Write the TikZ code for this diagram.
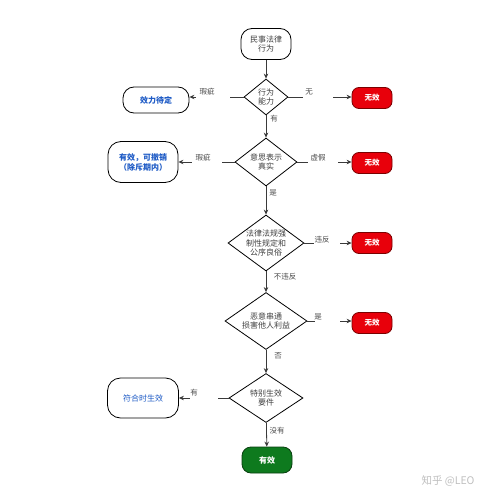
\documentclass[tikz,border=0pt]{standalone}
\usepackage{fontspec}
\setmainfont{Noto Sans CJK SC}
\usetikzlibrary{shapes.geometric,arrows.meta}
\definecolor{linec}{HTML}{3A3A3A}
\definecolor{bluet}{HTML}{1E5BC6}
\definecolor{redf}{HTML}{E8000B}
\definecolor{redd}{HTML}{7A0000}
\definecolor{greenf}{HTML}{0E7A1E}
\definecolor{greend}{HTML}{0A3F10}
\begin{document}
\begin{tikzpicture}[x=1pt,y=-1pt,
  font=\fontsize{8}{9.5}\selectfont,
  conn/.style={draw=linec, line width=0.8pt, -{Stealth[length=5pt,width=4.5pt]}},
  plain/.style={draw=linec, line width=0.8pt},
  dia/.style={diamond, draw=black, line width=0.8pt, inner sep=0pt, align=center, text=black!75},
  startbox/.style={draw=black, line width=0.8pt, rounded corners=11pt, align=center, text=black!75},
  resbox/.style={draw=black, line width=0.8pt, rounded corners=11pt, align=center, text=bluet},
  redbox/.style={draw=redd, fill=redf, line width=0.8pt, rounded corners=7pt, text=white, font=\fontsize{7.5}{9}\selectfont\bfseries, minimum width=40pt, minimum height=21pt, inner sep=0pt},
  greenbox/.style={draw=greend, fill=greenf, line width=0.8pt, rounded corners=9pt, text=white, font=\fontsize{8}{9}\selectfont\bfseries, minimum width=50pt, minimum height=26pt, inner sep=0pt},
  lab/.style={text=black!70, font=\fontsize{7.5}{9}\selectfont, inner sep=0pt},
  gapw/.style={fill=white, draw=none, inner sep=0pt, minimum height=5pt}
]
\useasboundingbox (0,0) rectangle (500,500);
\fill[white] (0,0) rectangle (500,500);

% main column
\node[startbox, minimum width=50pt, minimum height=31pt, inner sep=0pt] (s) at (266,44) {民事法律\\行为};
\node[dia, minimum width=44pt, minimum height=36pt, shape aspect=1.22] (d1) at (266,97) {行为\\能力};
\node[dia, minimum width=62pt, minimum height=48pt, shape aspect=1.29] (d2) at (266,162) {意思表示\\真实};
\node[dia, minimum width=76pt, minimum height=56pt, shape aspect=1.36] (d3) at (266,243) {法律法规强\\制性规定和\\公序良俗};
\node[dia, minimum width=82pt, minimum height=57pt, shape aspect=1.44] (d4) at (266,321) {恶意串通\\损害他人利益};
\node[dia, minimum width=74pt, minimum height=49pt, shape aspect=1.51] (d5) at (266,398) {特别生效\\要件};
\node[greenbox] (g) at (267,460) {有效};

% left boxes
\node[resbox, font=\fontsize{8}{9.5}\selectfont\bfseries, minimum width=66pt, minimum height=26pt, inner sep=0pt] (b1) at (156,100) {效力待定};
\node[resbox, font=\fontsize{8}{10}\selectfont\bfseries, minimum width=70pt, minimum height=41pt, inner sep=0pt, rounded corners=13pt] (b2) at (143,162) {有效，可撤销\\（除斥期内）};
\node[resbox, minimum width=71pt, minimum height=40pt, inner sep=0pt, rounded corners=13pt] (b5) at (143,398) {符合时生效};

% right boxes
\node[redbox] (r1) at (372,98) {无效};
\node[redbox] (r2) at (372,163) {无效};
\node[redbox] (r3) at (372,243) {无效};
\node[redbox] (r4) at (372,323) {无效};

% vertical connectors
\draw[conn] (s) -- (d1);
\draw[conn] (d1) -- (d2);
\draw[conn] (d2) -- (d3);
\draw[conn] (d3) -- (d4);
\draw[conn] (d4) -- (d5);
\draw[conn] (d5) -- (g);

% horizontal connectors
\draw[conn] (d1.east) -- (r1.west |- d1.east);
\draw[conn] (d1.west) -- (b1.east |- d1.west);
\draw[conn] (d2.east) -- (r2.west |- d2.east);
\draw[conn] (d2.west) -- (b2.east |- d2.west);
\draw[conn] (d3.east) -- (r3.west |- d3.east);
\draw[conn] (d4.east) -- (r4.west |- d4.east);
\draw[conn] (d5.west) -- (b5.east |- d5.west);

% gaps in the horizontal connectors
\node[gapw, minimum width=30pt] (g1r) at (318,97) {};
\node[gapw, minimum width=34pt] (g1l) at (213,97) {};
\node[gapw, minimum width=30pt] (g2r) at (323,162) {};
\node[gapw, minimum width=30pt] (g2l) at (207,162) {};
\node[gapw, minimum width=26pt] (g3r) at (327,243) {};
\node[gapw, minimum width=25pt] (g4r) at (327.5,321) {};
\node[gapw, minimum width=28pt] (g5l) at (204,398) {};

% labels
\node[lab] (l1r) at (309,92) {无};
\node[lab] (l1l) at (207,92) {瑕疵};
\node[lab] (l1b) at (274,119) {有};
\node[lab] (l2r) at (318,158) {虚假};
\node[lab] (l2l) at (203,158) {瑕疵};
\node[lab] (l2b) at (273,193) {是};
\node[lab] (l3r) at (322,240) {违反};
\node[lab] (l3b) at (285,277) {不违反};
\node[lab] (l4r) at (318,317) {是};
\node[lab] (l4b) at (278,356) {否};
\node[lab] (l5l) at (194,393) {有};
\node[lab] (l5b) at (277,431) {没有};

% watermark
\node[text=black!25, font=\fontsize{10.5}{12}\selectfont, inner sep=0pt] (wm) at (448,481) {知乎 @LEO};
\end{tikzpicture}
\end{document}
